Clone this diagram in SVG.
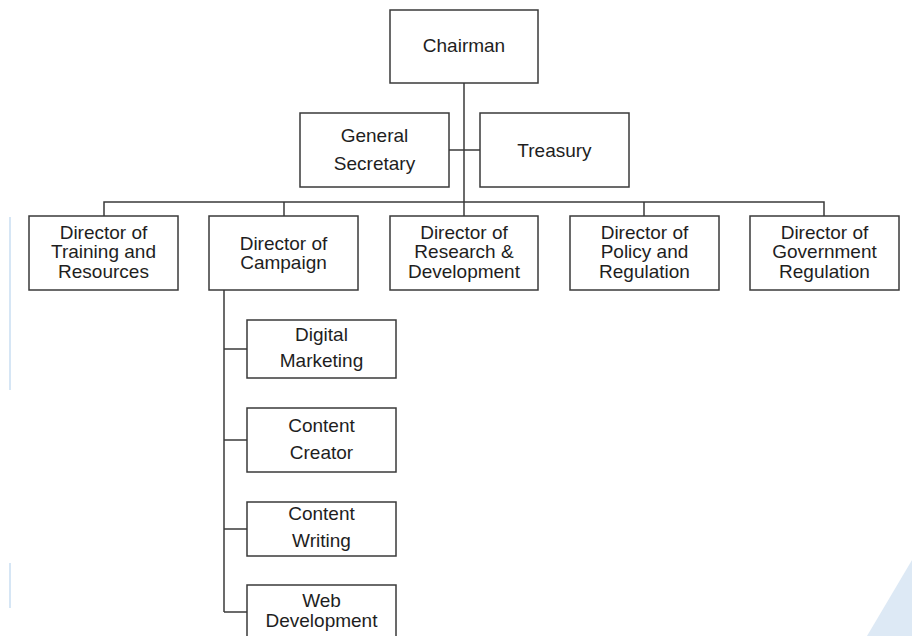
<svg xmlns="http://www.w3.org/2000/svg" width="912" height="636" viewBox="0 0 912 636">
<style>
.box{fill:#fff;stroke:#3a3a3a;stroke-width:1.5}
.ln{fill:none;stroke:#3a3a3a;stroke-width:1.5}
text{font-family:"Liberation Sans",Arial,sans-serif;font-size:19px;fill:#1e1e1e;text-anchor:middle}
</style>
<rect width="912" height="636" fill="#fff"/>
<g id="decor">
<line x1="10" y1="217" x2="10" y2="390" stroke="#d6e6f5" stroke-width="2"/>
<line x1="10" y1="563" x2="10" y2="608" stroke="#d6e6f5" stroke-width="2"/>
<polygon points="912,560 867,636 912,636" fill="#dde9f5"/>
</g>
<g id="connectors">
<path class="ln" d="M464,83 V216"/>
<path class="ln" d="M449,150 H480"/>
<path class="ln" d="M104,216 V202 H824 V216"/>
<path class="ln" d="M284,202 V216"/>
<path class="ln" d="M644,202 V216"/>
<path class="ln" d="M224,290 V612"/>
<path class="ln" d="M224,349 H247"/>
<path class="ln" d="M224,440 H247"/>
<path class="ln" d="M224,529 H247"/>
<path class="ln" d="M224,612 H247"/>
</g>
<g id="chairman"><rect class="box" x="390" y="10" width="148" height="73"/><text x="464" y="52">Chairman</text></g>
<g id="general-secretary"><rect class="box" x="300" y="113" width="149" height="74"/><text x="374.5" y="142">General</text><text x="374.5" y="170">Secretary</text></g>
<g id="treasury"><rect class="box" x="480" y="113" width="149" height="74"/><text x="554.5" y="157">Treasury</text></g>
<g id="dir-training"><rect class="box" x="29" y="216" width="149" height="74"/><text x="103.5" y="239">Director of</text><text x="103.5" y="258">Training and</text><text x="103.5" y="278">Resources</text></g>
<g id="dir-campaign"><rect class="box" x="209" y="216" width="149" height="74"/><text x="283.5" y="250">Director of</text><text x="283.5" y="269">Campaign</text></g>
<g id="dir-research"><rect class="box" x="390" y="216" width="148" height="74"/><text x="464" y="239">Director of</text><text x="464" y="258">Research &amp;</text><text x="464" y="278">Development</text></g>
<g id="dir-policy"><rect class="box" x="570" y="216" width="149" height="74"/><text x="644.5" y="239">Director of</text><text x="644.5" y="258">Policy and</text><text x="644.5" y="278">Regulation</text></g>
<g id="dir-government"><rect class="box" x="750" y="216" width="149" height="74"/><text x="824.5" y="239">Director of</text><text x="824.5" y="258">Government</text><text x="824.5" y="278">Regulation</text></g>
<g id="digital-marketing"><rect class="box" x="247" y="320" width="149" height="58"/><text x="321.5" y="341">Digital</text><text x="321.5" y="367">Marketing</text></g>
<g id="content-creator"><rect class="box" x="247" y="408" width="149" height="64"/><text x="321.5" y="432">Content</text><text x="321.5" y="459">Creator</text></g>
<g id="content-writing"><rect class="box" x="247" y="502" width="149" height="54"/><text x="321.5" y="520">Content</text><text x="321.5" y="547">Writing</text></g>
<g id="web-development"><rect class="box" x="247" y="585" width="149" height="60"/><text x="321.5" y="607">Web</text><text x="321.5" y="627">Development</text></g>
</svg>
